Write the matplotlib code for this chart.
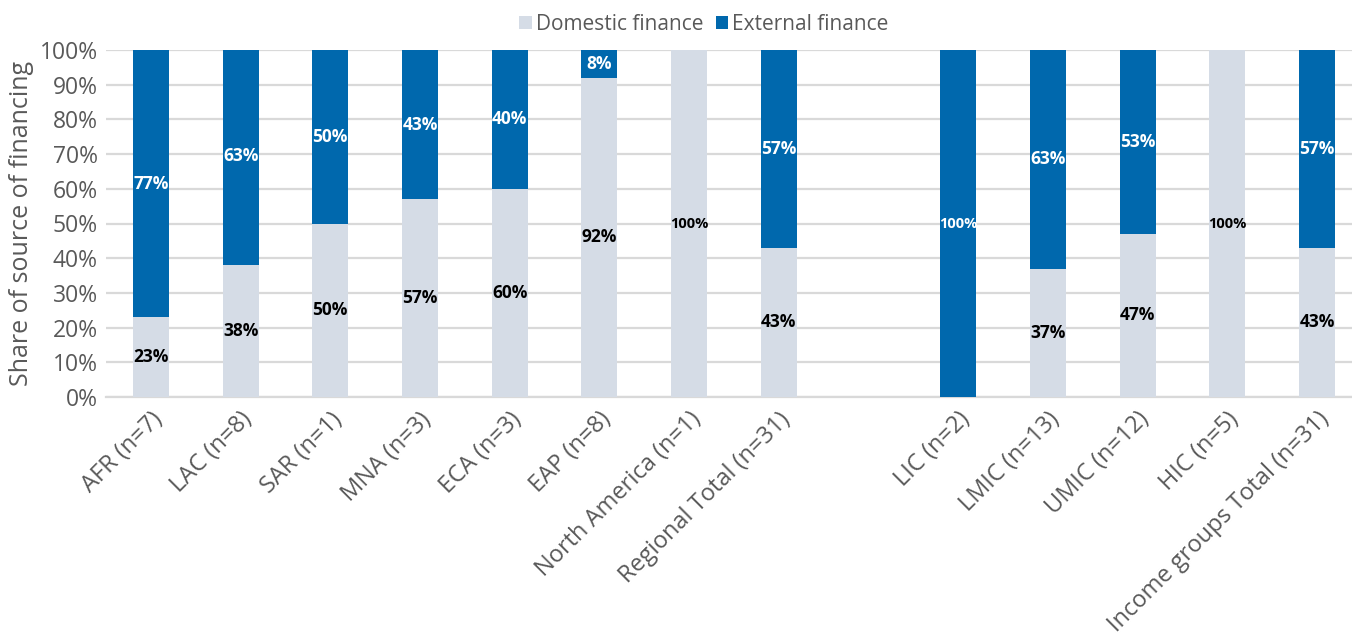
import matplotlib
matplotlib.use("Agg")
import matplotlib.pyplot as plt
import matplotlib.transforms as mtransforms
import numpy as np

plt.rcParams["font.family"] = ["Open Sans", "DejaVu Sans"]

REGIONS = ["AFR (n=7)", "LAC (n=8)", "SAR (n=1)", "MNA (n=3)", "ECA (n=3)",
           "EAP (n=8)", "North America (n=1)", "Regional Total (n=31)"]
INCOME = ["LIC (n=2)", "LMIC (n=13)", "UMIC (n=12)", "HIC (n=5)",
          "Income groups Total (n=31)"]

DOMESTIC_REG = [23, 38, 50, 57, 60, 92, 100, 43]
EXTERNAL_REG = [77, 63, 50, 43, 40, 8, 0, 57]
DOMESTIC_INC = [0, 37, 47, 100, 43]
EXTERNAL_INC = [100, 63, 53, 0, 57]

C_DOM = "#D5DCE6"
C_EXT = "#0068AD"
GREY_TXT = "#595959"
GRID = "#D9D9D9"

labels = REGIONS + INCOME
domestic = np.array(DOMESTIC_REG + DOMESTIC_INC, dtype=float)
external = np.array(EXTERNAL_REG + EXTERNAL_INC, dtype=float)
# one empty slot between the two groups
x = np.concatenate([np.arange(len(REGIONS)),
                    np.arange(len(INCOME)) + len(REGIONS) + 1])

fig = plt.figure(figsize=(13.52, 6.37), dpi=100)
ax = fig.add_axes([106 / 1352, 1 - 397 / 637, 1 - 106 / 1352, (397 - 50) / 637])

w = 0.4
bars_d = ax.bar(x, domestic, width=w, color=C_DOM, label="Domestic finance", zorder=3)
bars_e = ax.bar(x, external, width=w, bottom=domestic, color=C_EXT,
                label="External finance", zorder=3)

for xi, d, e in zip(x, domestic, external):
    if d > 0:
        fs = 10.5 if d >= 100 else 12.5
        ax.text(xi, d / 2, f"{d:.0f}%", ha="center", va="center",
                fontsize=fs, fontweight="bold", color="black", zorder=4)
    if e > 0:
        fs = 10.5 if e >= 100 else 12.5
        ax.text(xi, d + e / 2, f"{e:.0f}%", ha="center", va="center",
                fontsize=fs, fontweight="bold", color="white", zorder=4)

ax.set_xlim(-0.5, (1352 - 151) / 89.7)
ax.set_ylim(0, 100)
ax.set_yticks(np.arange(0, 101, 10))
ax.set_yticklabels([f"{v}%" for v in range(0, 101, 10)], fontsize=16.5, color=GREY_TXT)
ax.yaxis.grid(True, color=GRID, lw=1.6, zorder=0)
ax.set_axisbelow(True)
ax.tick_params(axis="both", length=0)
ax.tick_params(axis="y", pad=6)

ax.set_xticks(x)
ax.set_xticklabels(labels, rotation=45, ha="right", va="center",
                   rotation_mode="anchor", fontsize=17, color=GREY_TXT)
offset = mtransforms.ScaledTranslation(8 / 100, -14 / 100, fig.dpi_scale_trans)
for lbl in ax.get_xticklabels():
    lbl.set_transform(lbl.get_transform() + offset)

for side in ("top", "right", "left"):
    ax.spines[side].set_visible(False)
ax.spines["bottom"].set_color(GRID)
ax.spines["bottom"].set_linewidth(1.6)

ax.set_ylabel("Share of source of financing", fontsize=18, color=GREY_TXT, labelpad=4)

fig.legend(handles=[bars_d, bars_e], labels=["Domestic finance", "External finance"],
           loc="center", bbox_to_anchor=(704 / 1352, 1 - 24 / 637), ncol=2,
           frameon=False, fontsize=15, labelcolor=GREY_TXT,
           handlelength=0.6, handleheight=0.6, handletextpad=0.2, columnspacing=0.6)

fig.savefig("out.png", dpi=100)
